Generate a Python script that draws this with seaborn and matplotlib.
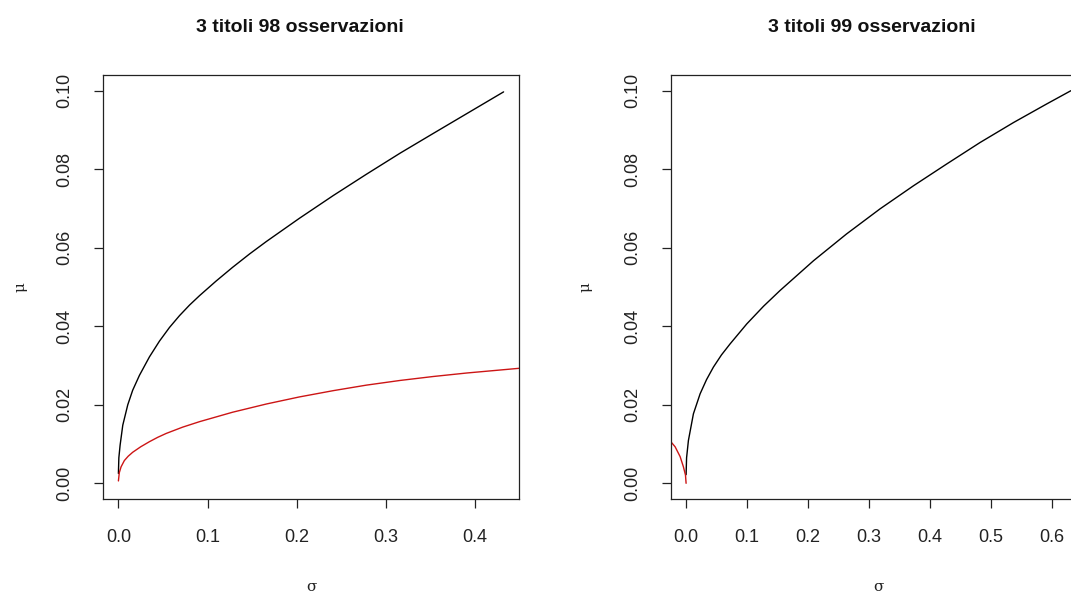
import matplotlib
matplotlib.use("Agg")
import matplotlib.pyplot as plt
import seaborn as sns
import pandas as pd

# Frontier for 98 observations (sigma, mu)
sig98_black = [0.0, 0.0005, 0.0019, 0.0049, 0.0105, 0.016, 0.0236, 0.0348, 0.046, 0.0573,
               0.0685, 0.0798, 0.091, 0.1095, 0.128, 0.147, 0.166, 0.203, 0.241, 0.278,
               0.316, 0.353, 0.391, 0.432]
mu98_black = [0.0025, 0.0065, 0.0097, 0.0148, 0.0200, 0.0237, 0.0275, 0.0322, 0.0362, 0.0397,
              0.0427, 0.0454, 0.0478, 0.0515, 0.0550, 0.0584, 0.0616, 0.0675, 0.0733, 0.0787,
              0.0841, 0.0891, 0.0942, 0.0997]
sig98_red = [0.0, 0.001, 0.003, 0.0067, 0.011, 0.016, 0.025, 0.0348, 0.044, 0.0536,
             0.072, 0.091, 0.128, 0.166, 0.203, 0.241, 0.278, 0.316, 0.353, 0.391, 0.45]
mu98_red = [0.0006, 0.0027, 0.0042, 0.0058, 0.0069, 0.0079, 0.0093, 0.0106, 0.0117, 0.0127,
            0.0143, 0.0157, 0.0181, 0.0202, 0.0220, 0.0236, 0.0250, 0.0262, 0.0272, 0.0281,
            0.0293]

# Frontier for 99 observations (sigma, mu)
sig99_black = [0.0, 0.0008, 0.0038, 0.012, 0.023, 0.0335, 0.0448, 0.058, 0.0721, 0.0995,
               0.127, 0.154, 0.209, 0.263, 0.318, 0.373, 0.427, 0.482, 0.537, 0.591, 0.631]
mu99_black = [0.0022, 0.0065, 0.0109, 0.0177, 0.0228, 0.0264, 0.0296, 0.0327, 0.0355, 0.0406,
              0.0451, 0.0491, 0.0567, 0.0635, 0.0699, 0.0758, 0.0813, 0.0868, 0.0919, 0.0966,
              0.1]
sig99_red = [-0.0251, -0.018, -0.0098, -0.0044, -0.001, 0.0]
mu99_red = [0.0106, 0.0093, 0.0068, 0.0042, 0.0021, 0.0]

titles = ["3 titoli 98 osservazioni", "3 titoli 99 osservazioni"]
xticks_98 = [0.0, 0.1, 0.2, 0.3, 0.4]
xticks_99 = [0.0, 0.1, 0.2, 0.3, 0.4, 0.5, 0.6]
yticks = [0.00, 0.02, 0.04, 0.06, 0.08, 0.10]

sns.set_style("white")
plt.rcParams["font.family"] = ["Liberation Sans", "DejaVu Sans"]

W, H = 1071, 594
fig = plt.figure(figsize=(W / 100, H / 100), dpi=100)


def px_rect(x0, y0, x1, y1):
    return [x0 / W, 1 - y1 / H, (x1 - x0) / W, (y1 - y0) / H]


RED = "#cc1515"
panels = [
    dict(rect=px_rect(103, 75, 519, 499), xlim=(-0.01728, 0.44928),
         xt=xticks_98, black=(sig98_black, mu98_black), red=(sig98_red, mu98_red),
         title=titles[0], tx=300, sx=311, ylab_x=20),
    dict(rect=px_rect(670.7, 75, 1086.3, 499), xlim=(-0.02524, 0.65624),
         xt=xticks_99, black=(sig99_black, mu99_black), red=(sig99_red, mu99_red),
         title=titles[1], tx=872, sx=878, ylab_x=585),
]

for p in panels:
    ax = fig.add_axes(p["rect"])
    black = pd.DataFrame({"sigma": p["black"][0], "mu": p["black"][1]})
    red = pd.DataFrame({"sigma": p["red"][0], "mu": p["red"][1]})
    sns.lineplot(data=black, x="sigma", y="mu", ax=ax, color="black", lw=1.0,
                 sort=False, estimator=None)
    sns.lineplot(data=red, x="sigma", y="mu", ax=ax, color=RED, lw=1.0,
                 sort=False, estimator=None)
    ax.set_xlim(*p["xlim"])
    ax.set_ylim(-0.004, 0.104)
    ax.set_xticks(p["xt"])
    ax.set_xticklabels([f"{v:.1f}" for v in p["xt"]])
    ax.set_yticks(yticks)
    ax.set_yticklabels([f"{v:.2f}" for v in yticks], rotation=90, va="center")
    ax.tick_params(axis="both", direction="out", length=6.5, width=0.9,
                   color="#222222", labelsize=13, labelcolor="#222222",
                   bottom=True, left=True, pad=15)
    for s in ax.spines.values():
        s.set_color("#222222")
        s.set_linewidth(0.9)
        s.set_visible(True)
    ax.set_xlabel("")
    ax.set_ylabel("")
    fig.text(p["tx"] / W, 1 - 28 / H, p["title"], ha="center", va="center",
             fontsize=14, fontweight="bold", color="#111111")
    fig.text(p["sx"] / W, 1 - 587 / H, "σ", ha="center", va="center",
             fontsize=11, family=["DejaVu Serif"], color="#222222")
    fig.text(p["ylab_x"] / W, 1 - 287 / H, "μ", ha="center", va="center", rotation=90,
             fontsize=11, family=["DejaVu Serif"], color="#222222")

fig.savefig("out.png", dpi=100)
